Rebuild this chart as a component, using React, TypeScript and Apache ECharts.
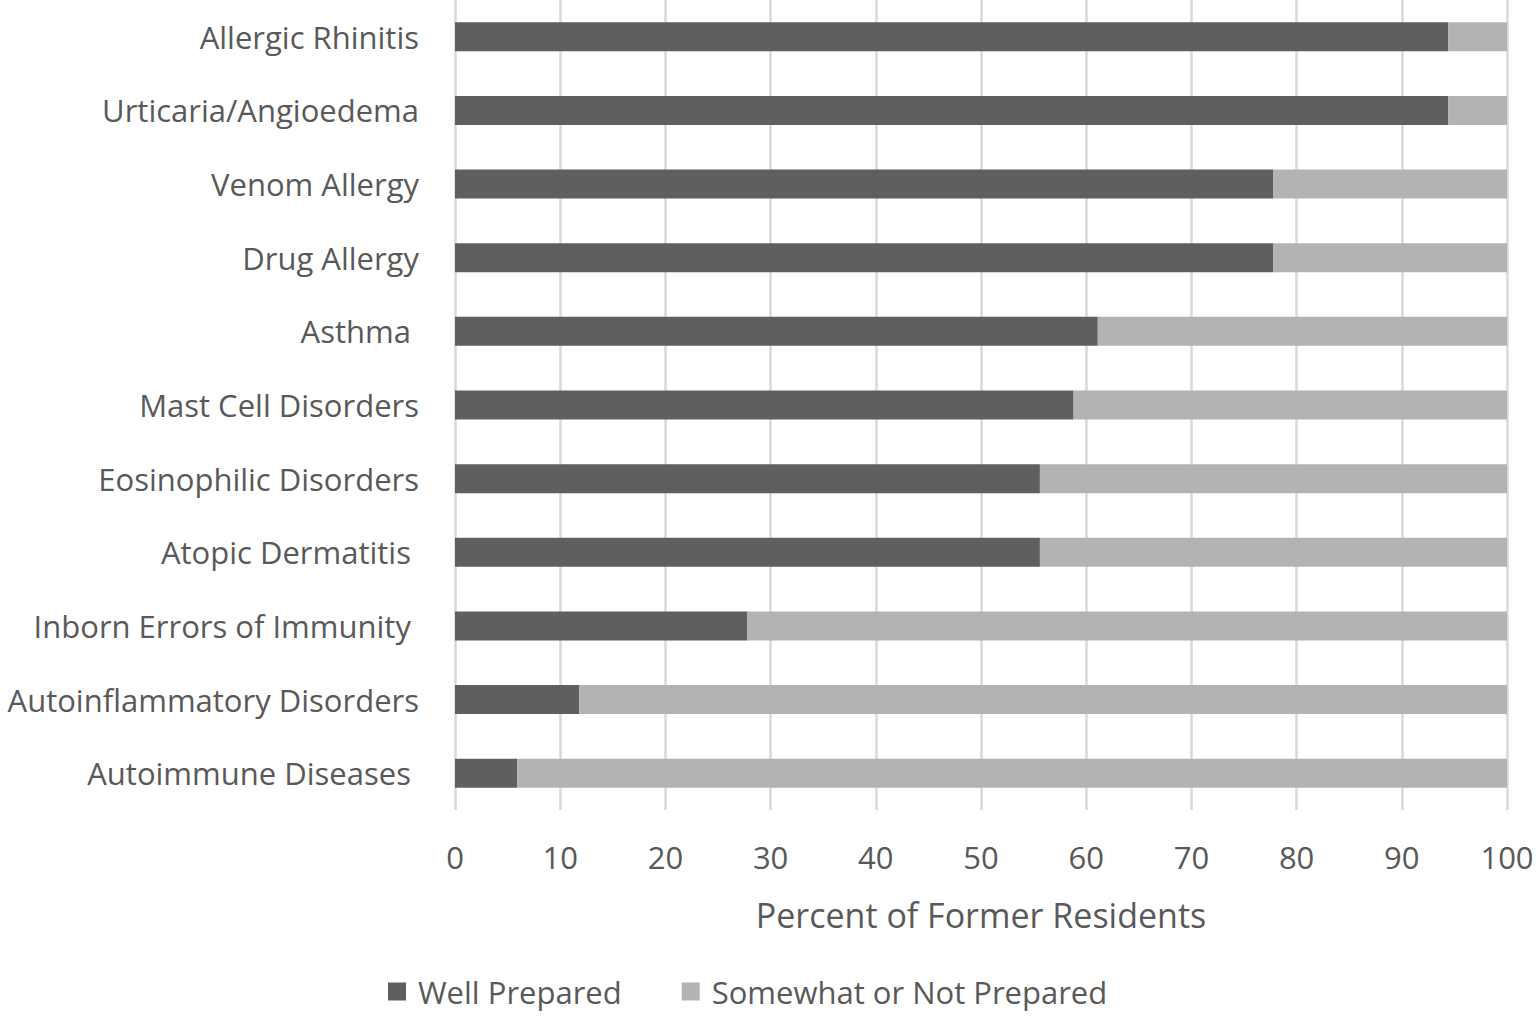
import React, { useEffect, useRef } from "react";
import * as echarts from "echarts";

const categories = [
  "Allergic Rhinitis",
  "Urticaria/Angioedema",
  "Venom Allergy",
  "Drug Allergy",
  "Asthma\u00a0",
  "Mast Cell Disorders",
  "Eosinophilic Disorders",
  "Atopic Dermatitis\u00a0",
  "Inborn Errors of Immunity\u00a0",
  "Autoinflammatory Disorders",
  "Autoimmune Diseases\u00a0",
];
const wellPrepared = [94.4, 94.4, 77.8, 77.8, 61.1, 58.8, 55.6, 55.6, 27.8, 11.8, 5.9];
const notPrepared = [5.6, 5.6, 22.2, 22.2, 38.9, 41.2, 44.4, 44.4, 72.2, 88.2, 94.1];
const xTicks = { min: 0, max: 100, interval: 10 };

const FONT = "Open Sans";
const TEXT = "#595959";

export default function App() {
  const ref = useRef<HTMLDivElement>(null);
  useEffect(() => {
    const chart = echarts.init(ref.current!, null, { renderer: "svg" });
    chart.setOption({
      animation: false,
      textStyle: { fontFamily: FONT },
      grid: { left: 455, right: 29, top: 0, bottom: 206, containLabel: false, outerBoundsMode: "none" },
      legend: {
        bottom: 4,
        left: 383,
        itemWidth: 18,
        itemHeight: 18,
        itemGap: 60,
        icon: "rect",
        textStyle: { fontSize: 31, color: TEXT, fontFamily: FONT, padding: [0, 0, 0, 7] },
        data: ["Well Prepared", "Somewhat or Not Prepared"],
      },
      xAxis: {
        type: "value",
        min: xTicks.min,
        max: xTicks.max,
        interval: xTicks.interval,
        name: "Percent of Former Residents",
        nameLocation: "middle",
        nameGap: 88,
        nameTextStyle: { fontSize: 34, color: TEXT, fontFamily: FONT },
        axisLine: { show: false },
        axisTick: { show: false },
        axisLabel: { fontSize: 31, color: TEXT, margin: 31, fontFamily: FONT },
        splitLine: { show: true, lineStyle: { color: "#d9d9d9", width: 2.5 } },
      },
      yAxis: {
        type: "category",
        inverse: true,
        data: categories,
        axisLine: { show: false },
        axisTick: { show: false },
        axisLabel: { fontSize: 31, color: TEXT, margin: 36, fontFamily: FONT },
      },
      series: [
        {
          name: "Well Prepared",
          type: "bar",
          stack: "total",
          barWidth: 29,
          itemStyle: { color: "#5f5f5f" },
          data: wellPrepared,
        },
        {
          name: "Somewhat or Not Prepared",
          type: "bar",
          stack: "total",
          barWidth: 29,
          itemStyle: { color: "#b3b3b3" },
          data: notPrepared,
        },
      ],
    });
    return () => chart.dispose();
  }, []);
  return <div ref={ref} style={{ width: 1536, height: 1016, position: "absolute", left: 0, top: 0 }} />;
}
